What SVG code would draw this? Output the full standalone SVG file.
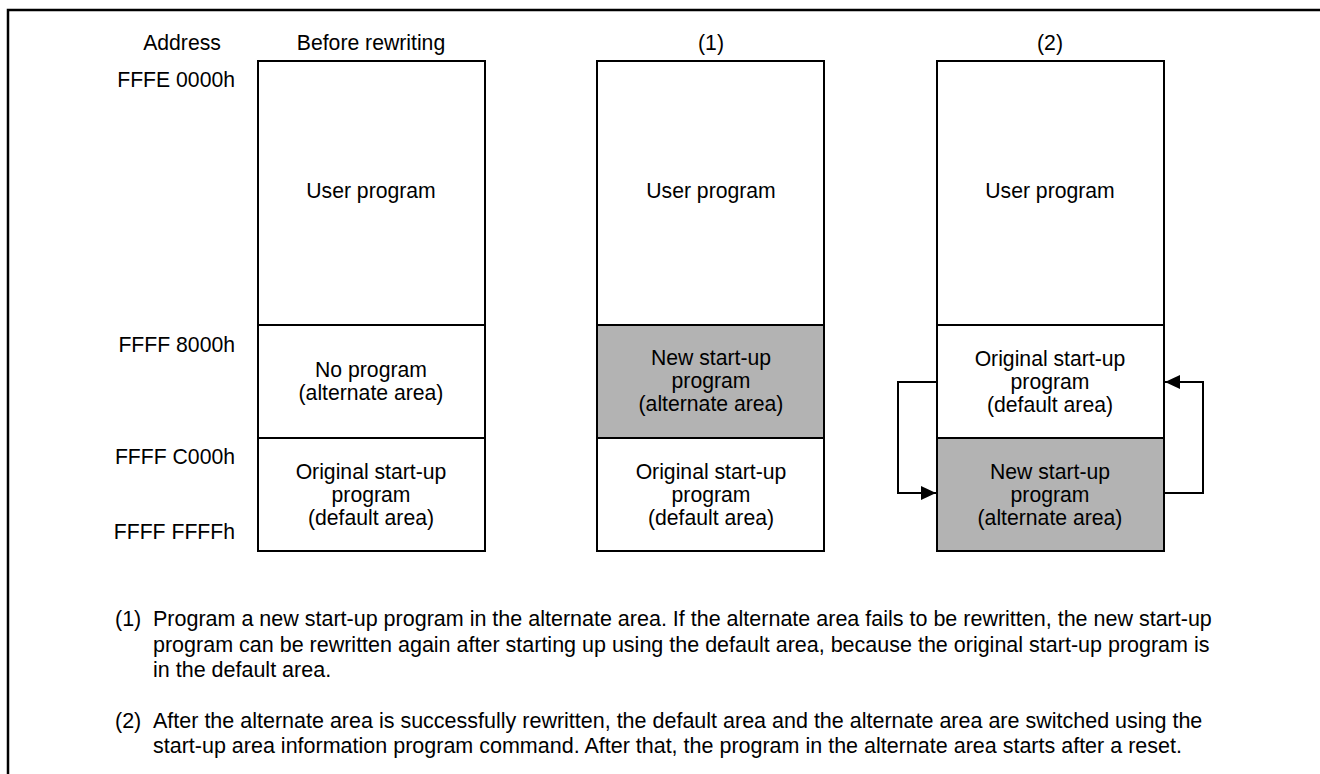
<svg xmlns="http://www.w3.org/2000/svg" width="1320" height="774" viewBox="0 0 1320 774">
<defs>
<style>
text{font-family:"Liberation Sans",Arial,sans-serif;font-size:21.2px;fill:#000}
.c{text-anchor:middle}
.r{text-anchor:end}
.n{font-size:21.5px}
.box{fill:#fff;stroke:#000;stroke-width:2}
.g{fill:#b3b3b3;stroke:#000;stroke-width:2}
.ln{fill:none;stroke:#000;stroke-width:2}
</style>
<marker id="ah" viewBox="0 0 15 14" refX="15" refY="7" markerWidth="15" markerHeight="14" markerUnits="userSpaceOnUse" orient="auto">
<path d="M0,0 L15,7 L0,14 Z" fill="#000"/>
</marker>
</defs>
<rect width="1320" height="774" fill="#fff"/>
<path d="M8,774 V10 H1320" fill="none" stroke="#000" stroke-width="2.5"/>

<g id="headers">
<text class="c" x="182" y="50">Address</text>
<text class="c" x="371" y="50">Before rewriting</text>
<text class="c" x="711" y="50">(1)</text>
<text class="c" x="1050" y="50">(2)</text>
</g>
<g id="addresses">
<text class="r" x="235" y="87">FFFE 0000h</text>
<text class="r" x="235" y="352">FFFF 8000h</text>
<text class="r" x="235" y="464">FFFF C000h</text>
<text class="r" x="235" y="539">FFFF FFFFh</text>
</g>

<g id="col0-user"><rect class="box" x="258" y="61" width="227" height="264"/><text class="c" x="371" y="198">User program</text></g>
<g id="col0-alt"><rect class="box" x="258" y="325" width="227" height="113"/><text class="c" x="371" y="377">No program</text><text class="c" x="371" y="400">(alternate area)</text></g>
<g id="col0-def"><rect class="box" x="258" y="438" width="227" height="113"/><text class="c" x="371" y="479">Original start-up</text><text class="c" x="371" y="502">program</text><text class="c" x="371" y="525">(default area)</text></g>

<g id="col1-user"><rect class="box" x="597" y="61" width="227" height="264"/><text class="c" x="711" y="198">User program</text></g>
<g id="col1-alt"><rect class="g" x="597" y="325" width="227" height="113"/><text class="c" x="711" y="365">New start-up</text><text class="c" x="711" y="388">program</text><text class="c" x="711" y="411">(alternate area)</text></g>
<g id="col1-def"><rect class="box" x="597" y="438" width="227" height="113"/><text class="c" x="711" y="479">Original start-up</text><text class="c" x="711" y="502">program</text><text class="c" x="711" y="525">(default area)</text></g>

<g id="col2-user"><rect class="box" x="937" y="61" width="227" height="264"/><text class="c" x="1050" y="198">User program</text></g>
<g id="col2-def"><rect class="box" x="937" y="325" width="227" height="113"/><text class="c" x="1050" y="366">Original start-up</text><text class="c" x="1050" y="389">program</text><text class="c" x="1050" y="412">(default area)</text></g>
<g id="col2-alt"><rect class="g" x="937" y="438" width="227" height="113"/><text class="c" x="1050" y="479">New start-up</text><text class="c" x="1050" y="502">program</text><text class="c" x="1050" y="525">(alternate area)</text></g>

<g id="connectors">
<path class="ln" d="M937,382 H898 V493 H936" marker-end="url(#ah)"/>
<path class="ln" d="M1164,493 H1203 V382 H1165" marker-end="url(#ah)"/>
</g>

<g id="notes">
<text class="n" x="115" y="626">(1)</text>
<text class="n" x="153" y="626">Program a new start-up program in the alternate area. If the alternate area fails to be rewritten, the new start-up</text>
<text class="n" x="153" y="652">program can be rewritten again after starting up using the default area, because the original start-up program is</text>
<text class="n" x="153" y="677">in the default area.</text>
<text class="n" x="115" y="728">(2)</text>
<text class="n" x="153" y="728">After the alternate area is successfully rewritten, the default area and the alternate area are switched using the</text>
<text class="n" x="153" y="753">start-up area information program command. After that, the program in the alternate area starts after a reset.</text>
</g>
</svg>
